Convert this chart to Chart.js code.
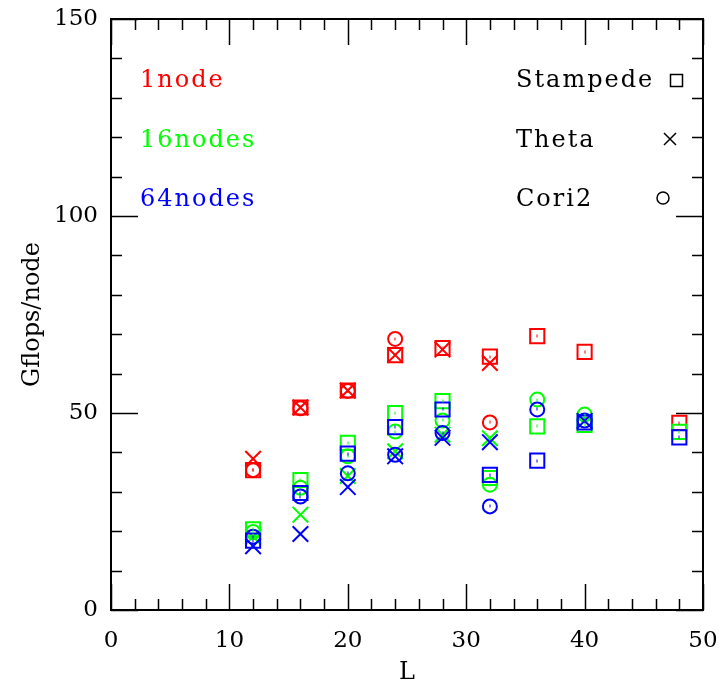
<!DOCTYPE html>
<html>
<head>
<meta charset="utf-8">
<script src="https://cdn.jsdelivr.net/npm/chart.js@4.4.1/dist/chart.umd.min.js"></script>
<style>
  html, body { margin: 0; padding: 0; background: #fff; }
  #wrap { width: 719px; height: 689px; position: relative; }
</style>
</head>
<body>
<div id="wrap"><canvas id="c1"></canvas></div>
<script>
// lattice sizes L
var L_stampede = [12, 16, 20, 24, 28, 32, 36, 40, 48];
var L_theta    = [12, 16, 20, 24, 28, 32];
var L_theta2   = [12, 16, 20, 24, 28, 32, 40];
var L_cori1    = [12, 16, 20, 24, 32];
var L_cori     = [12, 16, 20, 24, 28, 32, 36, 40];

// Gflops/node
var stampede_1  = [35.5, 51.4, 55.7, 64.7, 66.5, 64.3, 69.5, 65.5, 47.5];
var stampede_16 = [20.5, 33.0, 42.4, 50.0, 53.0, 33.5, 46.6, 47.0, 45.2];
var stampede_64 = [17.6, 29.7, 39.7, 46.4, 50.9, 34.3, 37.9, 47.6, 43.8];

var theta_1  = [38.4, 51.4, 55.7, 64.7, 66.1, 62.7];
var theta_16 = [18.6, 24.2, 34.0, 40.3, 44.5, 43.6, 48.0];
var theta_64 = [16.2, 19.3, 31.2, 39.0, 43.7, 42.6, 48.0];

var cori_1  = [35.5, 51.2, 55.6, 68.8, 47.6];
var cori_16 = [19.8, 31.0, 39.0, 45.3, 48.1, 31.8, 53.4, 49.6];
var cori_64 = [18.6, 28.8, 34.7, 39.4, 44.9, 26.3, 50.9, 48.1];

var nodeLabels = ['1node', '16nodes', '64nodes'];
var machineLabels = ['Stampede', 'Theta', 'Cori2'];
var yTicks = [0, 50, 100, 150];
var xTicks = [0, 10, 20, 30, 40, 50];

var RED = '#ff0000', GREEN = '#00ff00', BLUE = '#0000ff';
var FONT = '"DejaVu Serif", serif';

function pts(xs, ys) {
  return xs.map(function(x, i) { return {x: x, y: ys[i]}; });
}

function ds(label, xs, ys, color, style, radius, order) {
  return {
    label: label,
    data: pts(xs, ys),
    showLine: false,
    pointStyle: style,
    pointRadius: radius,
    pointHoverRadius: radius,
    pointBorderWidth: 2,
    pointBackgroundColor: 'rgba(0,0,0,0)',
    pointBorderColor: color,
    borderColor: color,
    backgroundColor: 'rgba(0,0,0,0)',
    order: order
  };
}

// frame + inward ticks on all four sides, legend text
var framePlugin = {
  id: 'frame',
  beforeDatasetsDraw: function(chart) {
    var ctx = chart.ctx, a = chart.chartArea;
    var xs = chart.scales.x, ys = chart.scales.y;
    ctx.save();
    ctx.strokeStyle = '#000';
    ctx.lineWidth = 1.5;
    var v, p, len;
    for (v = 0; v <= 50; v += 2) {
      p = Math.round(xs.getPixelForValue(v)) + 0.5;
      len = (v % 10 === 0) ? 26 : 11;
      ctx.beginPath();
      ctx.moveTo(p, a.bottom); ctx.lineTo(p, a.bottom - len);
      ctx.moveTo(p, a.top); ctx.lineTo(p, a.top + len);
      ctx.stroke();
    }
    for (v = 0; v <= 150; v += 10) {
      p = Math.round(ys.getPixelForValue(v)) + 0.5;
      len = (v % 50 === 0) ? 27 : 11;
      ctx.beginPath();
      ctx.moveTo(a.left, p); ctx.lineTo(a.left + len, p);
      ctx.moveTo(a.right, p); ctx.lineTo(a.right - len, p);
      ctx.stroke();
    }
    ctx.lineWidth = 2;
    ctx.strokeRect(a.left, a.top, a.right - a.left, a.bottom - a.top);

    // legend text
    ctx.font = '24px ' + FONT;
    ctx.letterSpacing = '2px';
    ctx.textBaseline = 'alphabetic';
    ctx.textAlign = 'left';
    var nodeColors = [RED, GREEN, BLUE];
    var baseY = [87, 147, 206];
    for (var i = 0; i < 3; i++) {
      ctx.fillStyle = nodeColors[i];
      ctx.fillText(nodeLabels[i], 140, baseY[i]);
      ctx.fillStyle = '#000';
      ctx.fillText(machineLabels[i], 516, baseY[i]);
    }
    // legend symbols
    ctx.strokeStyle = '#000';
    ctx.lineWidth = 1.5;
    ctx.strokeRect(670.5, 74.5, 12, 12);
    ctx.beginPath();
    ctx.moveTo(664, 133); ctx.lineTo(676, 145);
    ctx.moveTo(676, 133); ctx.lineTo(664, 145);
    ctx.stroke();
    ctx.beginPath();
    ctx.arc(663, 198, 6, 0, Math.PI * 2);
    ctx.stroke();
    ctx.restore();
  },
  afterDatasetsDraw: function(chart) {
    // little centre dot that each marker has
    var ctx = chart.ctx;
    ctx.save();
    chart.data.datasets.forEach(function(d, i) {
      var meta = chart.getDatasetMeta(i);
      ctx.fillStyle = d.pointBorderColor;
      meta.data.forEach(function(el) {
        ctx.fillRect(Math.round(el.x) - 0.5, Math.round(el.y) - 1.5, 1, 3);
      });
    });
    ctx.restore();
  }
};

new Chart(document.getElementById('c1'), {
  type: 'scatter',
  data: {
    datasets: [
      ds('1node Stampede', L_stampede, stampede_1, RED, 'rect', 10, 3),
      ds('1node Theta', L_theta, theta_1, RED, 'crossRot', 11, 3),
      ds('1node Cori2', L_cori1, cori_1, RED, 'circle', 7, 3),
      ds('16nodes Stampede', L_stampede, stampede_16, GREEN, 'rect', 10, 2),
      ds('16nodes Theta', L_theta2, theta_16, GREEN, 'crossRot', 11, 2),
      ds('16nodes Cori2', L_cori, cori_16, GREEN, 'circle', 7, 2),
      ds('64nodes Stampede', L_stampede, stampede_64, BLUE, 'rect', 10, 1),
      ds('64nodes Theta', L_theta2, theta_64, BLUE, 'crossRot', 11, 1),
      ds('64nodes Cori2', L_cori, cori_64, BLUE, 'circle', 7, 1)
    ]
  },
  options: {
    responsive: true,
    maintainAspectRatio: false,
    animation: false,
    events: [],
    layout: { padding: { top: 19, right: 16, left: 0, bottom: 0 } },
    plugins: { legend: { display: false }, tooltip: { enabled: false } },
    scales: {
      x: {
        type: 'linear', min: 0, max: 50,
        afterFit: function(s) { s.height = 79; s.paddingLeft = 0; s.paddingRight = 0; },
        afterBuildTicks: function(s) { s.ticks = xTicks.map(function(v) { return {value: v}; }); },
        grid: { display: false, drawTicks: false },
        border: { display: false },
        ticks: { color: '#000', font: { family: FONT, size: 23 }, padding: 17, maxRotation: 0 },
        title: { display: true, text: 'L', color: '#000', font: { family: FONT, size: 24 }, padding: { top: 4, bottom: 2 } }
      },
      y: {
        type: 'linear', min: 0, max: 150,
        afterFit: function(s) { s.width = 111; s.paddingTop = 0; s.paddingBottom = 0; },
        afterBuildTicks: function(s) { s.ticks = yTicks.map(function(v) { return {value: v}; }); },
        grid: { display: false, drawTicks: false },
        border: { display: false },
        ticks: { color: '#000', font: { family: FONT, size: 23 }, padding: 13 },
        title: { display: true, text: 'Gflops/node', color: '#000', font: { family: FONT, size: 24 }, padding: { top: 18, bottom: 4 } }
      }
    }
  },
  plugins: [framePlugin]
});
</script>
</body>
</html>
